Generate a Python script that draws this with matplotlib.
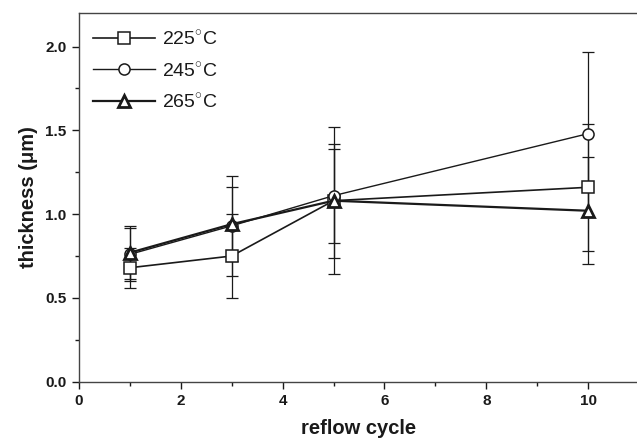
import matplotlib
matplotlib.use('Agg')
import matplotlib.pyplot as plt
from matplotlib.ticker import MultipleLocator

cycles = [1, 3, 5, 10]

t225 = [0.68, 0.75, 1.08, 1.16]
e225 = [0.12, 0.25, 0.44, 0.38]

t245 = [0.76, 0.93, 1.11, 1.48]
e245 = [0.16, 0.30, 0.28, 0.49]

t265 = [0.77, 0.94, 1.08, 1.02]
e265 = [0.16, 0.22, 0.34, 0.32]

labels = ['225$^{\\circ}$C', '245$^{\\circ}$C', '265$^{\\circ}$C']

plt.rcParams['font.family'] = ['Liberation Sans', 'DejaVu Sans']
plt.rcParams['mathtext.fontset'] = 'custom'
plt.rcParams['mathtext.rm'] = 'Liberation Sans'

fig = plt.figure(figsize=(6.37, 4.46), dpi=100)
ax = fig.add_axes([79 / 637, 64.3 / 446, 560 / 637, 368.7 / 446])

ink = '#1a1a1a'

# error bars first, thin, then the lines with markers on top
for vals, errs in [(t225, e225), (t245, e245), (t265, e265)]:
    ax.errorbar(cycles, vals, yerr=errs, fmt='none', ecolor=ink,
                elinewidth=0.9, capsize=4, capthick=0.9, zorder=2)

ax.plot(cycles, t225, marker='s', markersize=8, lw=1.2, color=ink,
        mfc='white', mec=ink, mew=1.1, label=labels[0], zorder=3)
ax.plot(cycles, t245, marker='o', markersize=8, lw=1.0, color=ink,
        mfc='white', mec=ink, mew=1.1, label=labels[1], zorder=4)
ax.plot(cycles, t265, marker='^', markersize=9, lw=1.6, color=ink,
        mfc='white', mec=ink, mew=2.0, label=labels[2], zorder=5)

ax.set_xlim(0, 11)
ax.set_ylim(0, 2.2)
ax.xaxis.set_minor_locator(MultipleLocator(1))
ax.yaxis.set_minor_locator(MultipleLocator(0.25))
ax.set_xticks([0, 2, 4, 6, 8, 10])
ax.set_yticks([0.0, 0.5, 1.0, 1.5, 2.0])
ax.set_yticklabels(['0.0', '0.5', '1.0', '1.5', '2.0'])

ax.tick_params(which='both', direction='out', color=ink, width=1.0)
ax.tick_params(which='major', length=5, labelsize=11, pad=4)
ax.tick_params(which='minor', length=3)
for lab in ax.get_xticklabels() + ax.get_yticklabels():
    lab.set_fontweight('bold')
    lab.set_color(ink)

for sp in ax.spines.values():
    sp.set_color('#444444')
    sp.set_linewidth(1.0)

ax.set_xlabel('reflow cycle', fontsize=14.5, fontweight='bold', color=ink, labelpad=8)
ax.set_ylabel('thickness (\u03bcm)', fontsize=14.5, fontweight='bold', color=ink, labelpad=5)

leg = ax.legend(loc='upper left', bbox_to_anchor=(0.025, 0.955), frameon=False,
                fontsize=14, numpoints=1, handlelength=3.2, handletextpad=0.35,
                labelspacing=0.65, borderpad=0, borderaxespad=0)
for t in leg.get_texts():
    t.set_color(ink)

fig.savefig('out.png', dpi=100)
